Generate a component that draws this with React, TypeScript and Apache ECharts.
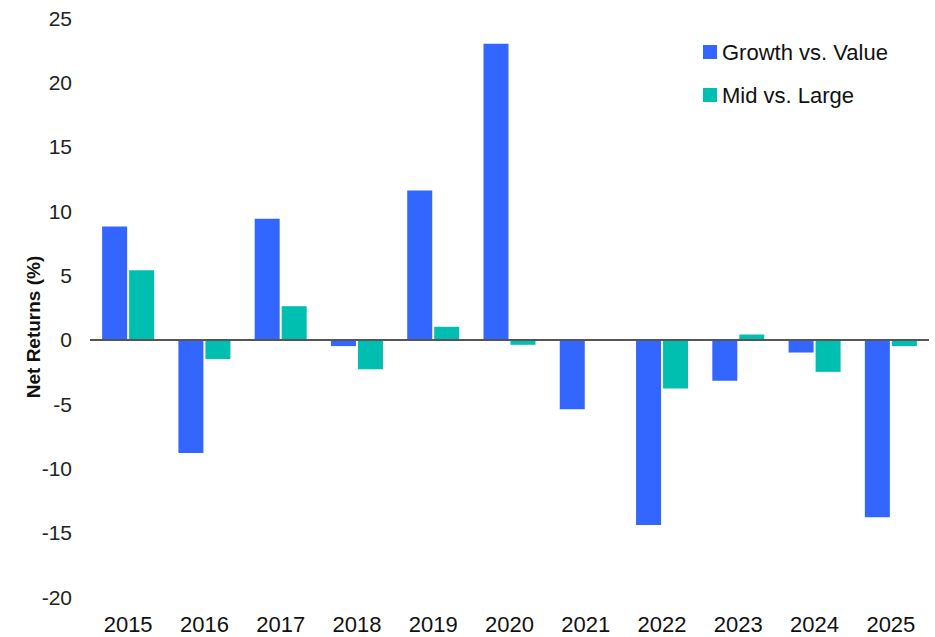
import React, { useEffect, useRef } from "react";
import * as echarts from "echarts";

const years = ["2015", "2016", "2017", "2018", "2019", "2020", "2021", "2022", "2023", "2024", "2025"];
const growthVsValue = [8.8, -8.8, 9.4, -0.5, 11.6, 23.0, -5.4, -14.4, -3.2, -1.0, -13.8];
const midVsLarge = [5.4, -1.5, 2.6, -2.3, 1.0, -0.4, 0.0, -3.8, 0.4, -2.5, -0.5];
const seriesNames = ["Growth vs. Value", "Mid vs. Large"];
const yAxisTitle = "Net Returns (%)";

export default function App() {
  const ref = useRef<HTMLDivElement>(null);
  useEffect(() => {
    if (!ref.current) return;
    const chart = echarts.init(ref.current, null, { renderer: "svg" });
    const font = "Liberation Sans, Arial, sans-serif";
    chart.setOption({
      animation: false,
      backgroundColor: "#ffffff",
      textStyle: { fontFamily: font },
      grid: { left: 90, right: 6, top: 18, bottom: 40, containLabel: false },
      legend: {
        orient: "vertical",
        left: 698,
        top: 36,
        itemWidth: 14,
        itemHeight: 14,
        itemGap: 21,
        icon: "rect",
        textStyle: { fontSize: 22, color: "#111", fontFamily: font },
        data: seriesNames,
      },
      graphic: [
        {
          type: "text",
          x: 33,
          y: 327,
          rotation: Math.PI / 2,
          style: {
            text: yAxisTitle,
            fontSize: 19,
            fontWeight: "bold",
            fontFamily: font,
            fill: "#111",
            textAlign: "center",
            textVerticalAlign: "middle",
          },
        },
      ],
      xAxis: {
        type: "category",
        data: years,
        axisLine: { show: false },
        axisTick: { show: false },
        axisLabel: { fontSize: 22, color: "#111", margin: 16, fontFamily: font },
      },
      yAxis: {
        type: "value",
        min: -20,
        max: 25,
        interval: 5,
        axisLine: { show: false },
        axisTick: { show: false },
        splitLine: { show: false },
        axisLabel: { fontSize: 21, color: "#222", margin: 18, fontFamily: font },
      },
      series: [
        {
          name: seriesNames[0],
          type: "bar",
          data: growthVsValue,
          barWidth: 25,
          barGap: "8%",
          itemStyle: { color: "#3366ff" },
          markLine: {
            silent: true,
            symbol: "none",
            label: { show: false },
            lineStyle: { color: "#555555", width: 2, type: "solid" },
            data: [{ yAxis: 0 }],
            z: 5,
          },
        },
        {
          name: seriesNames[1],
          type: "bar",
          data: midVsLarge,
          barWidth: 25,
          itemStyle: { color: "#00bfb0" },
        },
      ],
    });
    return () => chart.dispose();
  }, []);
  return <div ref={ref} style={{ width: 935, height: 637, position: "absolute", left: 0, top: 0 }} />;
}
